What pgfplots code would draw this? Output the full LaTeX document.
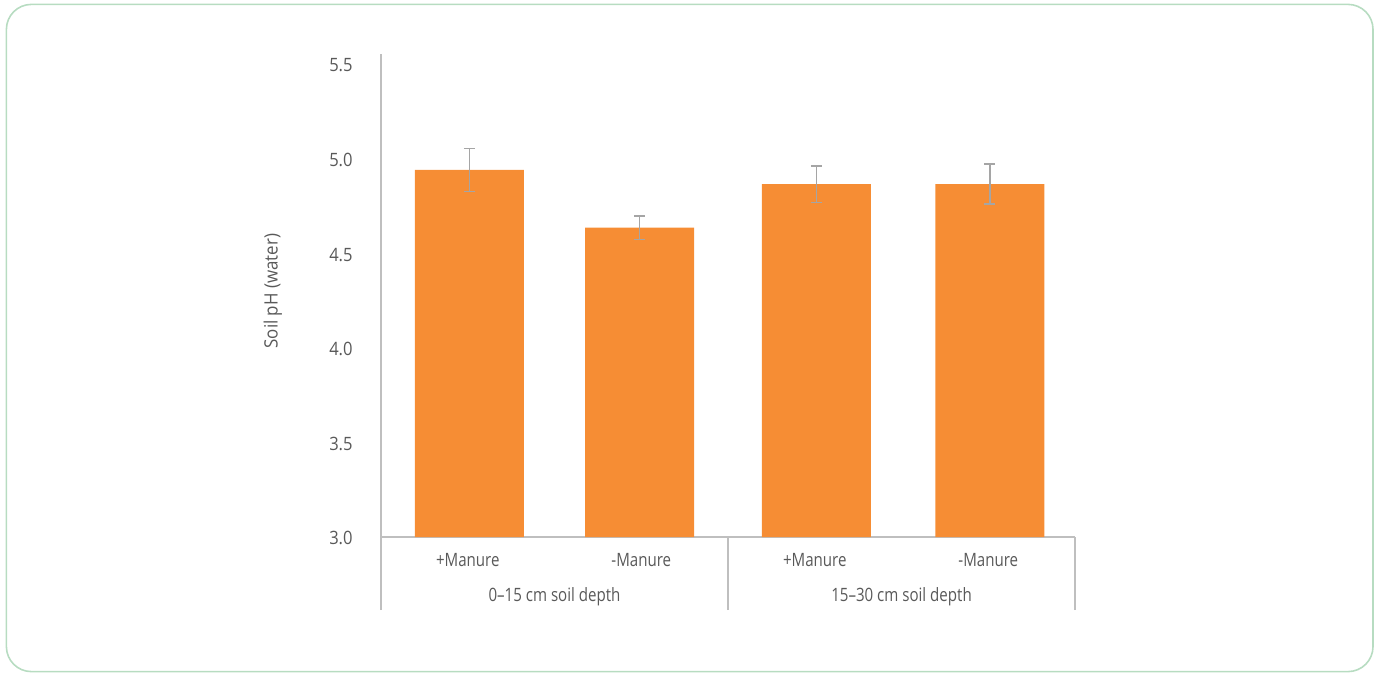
\documentclass[border=0pt]{standalone}
\usepackage{fontspec}
\setmainfont{Open Sans}[FakeStretch=0.82]
\newfontfamily\tickfont{Open Sans}[FakeStretch=0.9]
\newfontfamily\ylabfont{Open Sans}[FakeStretch=0.92]
\usepackage{pgfplots}
\pgfplotsset{compat=1.18}
\definecolor{barorange}{HTML}{F68D34}
\definecolor{errgray}{HTML}{A5A5A5}
\definecolor{axisgray}{HTML}{BFBFBF}
\definecolor{txtgray}{HTML}{595959}
\definecolor{framegreen}{HTML}{B7DCC1}
\newcommand{\lblfont}{\fontsize{9.2}{11}\selectfont}

\begin{document}
\begin{tikzpicture}
\path[use as bounding box] (0,0) rectangle (690pt,-336.5pt);
\draw[framegreen, line width=0.8pt, rounded corners=12.5pt] (3.2pt,-2.2pt) rectangle (686.5pt,-335.8pt);
\begin{axis}[
    at={(190.5pt,-268.5pt)}, anchor=south west,
    scale only axis, width=347pt, height=241.5pt,
    xmin=-0.5, xmax=3.5, ymin=3, ymax=5.553,
    axis x line=bottom, axis y line=left,
    axis line style={axisgray, line width=0.75pt, -},
    xtick={0,1,2,3},
    xticklabels={+Manure, -Manure, +Manure, -Manure},
    ytick={3,3.5,4,4.5,5,5.5},
    /pgf/number format/assume math mode=true,
    yticklabel style={/pgf/number format/fixed, /pgf/number format/fixed zerofill,
        /pgf/number format/precision=1, inner sep=0pt, anchor=east,
        xshift=-14pt, yshift=-0.7pt, font=\tickfont\lblfont},
    xticklabel style={inner sep=0pt, anchor=center, yshift=-11.5pt, font=\lblfont},
    tick label style={text=txtgray},
    major tick length=0pt,
    extra x ticks={-0.5,1.5,3.5},
    extra x tick labels={},
    extra x tick style={major tick length=36.5pt, tick align=outside,
        tick style={axisgray, line width=0.75pt}},
    ylabel={Soil pH (water)},
    ylabel style={at={(axis description cs:-0.156,0.509)}, anchor=center,
        font=\ylabfont\lblfont, text=txtgray},
    clip=false,
]
\addplot[ybar, bar width=54.5pt, fill=barorange, draw=none,
    error bars/.cd, y dir=both, y explicit,
    error bar style={errgray, line width=0.75pt},
    error mark options={rotate=90, errgray, mark size=2.75pt, line width=0.75pt}]
    coordinates {
    (0.01,4.94) +- (0,0.113)
    (0.99,4.635) +- (0,0.062)
    (2.01,4.865) +- (0,0.097)
    (3.01,4.865) +- (0,0.106)
    };
\node[font=\lblfont, text=txtgray] at (axis cs:0.5,3) [yshift=-30pt] {0--15 cm soil depth};
\node[font=\lblfont, text=txtgray] at (axis cs:2.5,3) [yshift=-30pt] {15--30 cm soil depth};
\end{axis}
\end{tikzpicture}
\end{document}
